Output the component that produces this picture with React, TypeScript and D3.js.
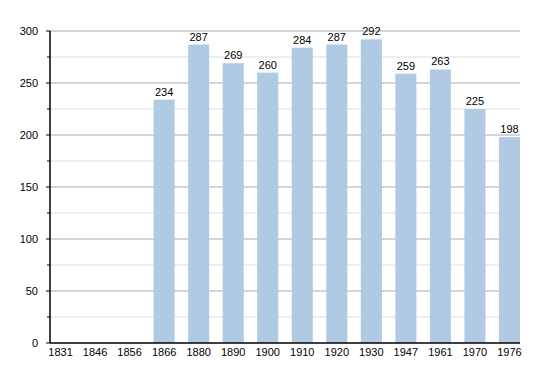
import * as d3 from 'd3';

const years = ['1831', '1846', '1856', '1866', '1880', '1890', '1900', '1910', '1920', '1930', '1947', '1961', '1970', '1976'];
const population: (number | null)[] = [null, null, null, 234, 287, 269, 260, 284, 287, 292, 259, 263, 225, 198];
const majorTicks = [0, 50, 100, 150, 200, 250, 300];
const minorTicks = [25, 75, 125, 175, 225, 275];

const width = 550;
const height = 373;
const margin = { top: 31, right: 30, bottom: 30, left: 50 };

export default function App() {
  const x = d3.scaleBand()
    .domain(years)
    .range([margin.left, width - margin.right])
    .paddingInner(0.39)
    .paddingOuter(0);

  const y = d3.scaleLinear()
    .domain([0, 300])
    .range([height - margin.bottom, margin.top]);

  const font = 'Liberation Sans, Arial, sans-serif';
  const x0 = margin.left;
  const x1 = width - margin.right;

  return (
    <svg width={width} height={height} style={{ position: 'absolute', left: 0, top: 0 }}>
      <rect width={width} height={height} fill="#fff" />
      {/* minor grid */}
      {minorTicks.map(t => (
        <g key={'m' + t}>
          <line x1={x0} x2={x1} y1={y(t)} y2={y(t)} stroke="#dddddd" strokeWidth={1} />
          <line x1={x0 - 3} x2={x0} y1={y(t)} y2={y(t)} stroke="#000" strokeWidth={1} />
        </g>
      ))}
      {/* major grid */}
      {majorTicks.filter(t => t > 0).map(t => (
        <line key={'g' + t} x1={x0} x2={x1} y1={y(t)} y2={y(t)} stroke="#aaaaaa" strokeWidth={1} />
      ))}
      {/* bars */}
      {years.map((yr, i) => {
        const v = population[i];
        if (v == null) return null;
        return (
          <g key={yr}>
            <rect x={x(yr)} y={y(v)} width={x.bandwidth()} height={y(0) - y(v)} fill="#b1cae4" />
            <text x={(x(yr) || 0) + x.bandwidth() / 2} y={y(v) - 4} textAnchor="middle"
              fontFamily={font} fontSize={11} fill="#000">{v}</text>
          </g>
        );
      })}
      {/* y axis */}
      <line x1={x0} x2={x0} y1={y(300)} y2={y(0)} stroke="#000" strokeWidth={1.5} />
      {majorTicks.map(t => (
        <g key={'t' + t}>
          <line x1={x0 - 4} x2={x0} y1={y(t)} y2={y(t)} stroke="#000" strokeWidth={1} />
          <text x={x0 - 12} y={y(t) + 4} textAnchor="end" fontFamily={font} fontSize={11} fill="#000">{t}</text>
        </g>
      ))}
      {/* x axis */}
      <line x1={x0} x2={x1} y1={y(0)} y2={y(0)} stroke="#000" strokeWidth={1.5} />
      {years.map(yr => (
        <text key={'x' + yr} x={(x(yr) || 0) + x.bandwidth() / 2} y={y(0) + 13} textAnchor="middle"
          fontFamily={font} fontSize={11} fill="#000">{yr}</text>
      ))}
    </svg>
  );
}
